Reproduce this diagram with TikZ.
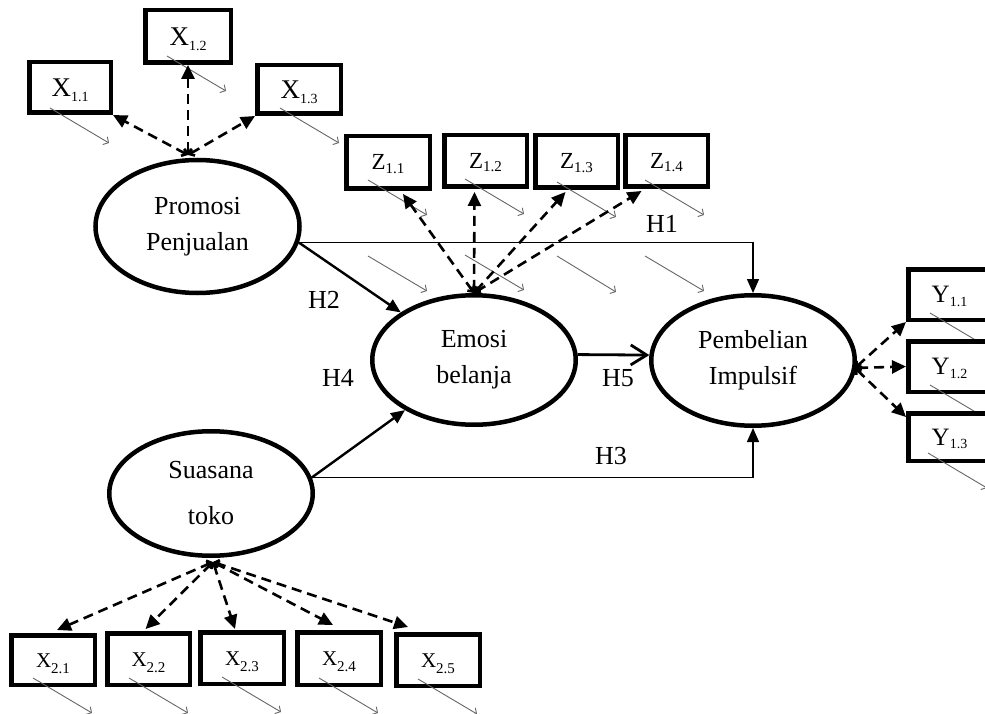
\documentclass[tikz,border=0pt]{standalone}
\usepackage{fontspec}
\setmainfont{Liberation Serif}
\usetikzlibrary{arrows.meta,calc,shapes.geometric}
\definecolor{errgray}{HTML}{666666}
\newcommand\sbx[3][4pt]{\raisebox{-#1}{\fontsize{#2}{#2}\selectfont #3}}
\begin{document}
\begin{tikzpicture}[x=1pt,y=-1pt,
 ind/.style={draw,line width=4.5pt,fill=white,inner sep=0pt,text depth=0pt},
 big/.style={font=\fontsize{27}{27}\selectfont,text height=18pt},
 mid/.style={font=\fontsize{23}{23}\selectfont,text height=15pt},
 ymid/.style={font=\fontsize{25}{25}\selectfont,text height=16.5pt},
 sml/.style={font=\fontsize{21}{21}\selectfont,text height=14pt},
 lat/.style={draw,ellipse,line width=4.5pt,inner sep=0pt,align=center,font=\fontsize{26}{36}\selectfont},
 hl/.style={font=\fontsize{26}{26}\selectfont,inner sep=0pt},
 err/.style={draw=errgray,line width=0.9pt,-{Straight Barb[length=4pt,width=9pt]}},
 load/.style={line width=2.6pt,dash pattern=on 10pt off 6pt,arrows={Straight Barb[length=4pt,width=8pt]-Triangle[length=14pt,width=13pt]}},
 reg/.style={line width=1.4pt,-{Triangle[length=14pt,width=12pt]}},
 regt/.style={line width=2.4pt,-{Triangle[length=14pt,width=12pt]}},
 hfive/.style={line width=2.8pt,-{Straight Barb[length=16pt,width=20pt]}}
]
\useasboundingbox (0,0) rectangle (985,714);

% latent variables
\node[lat,minimum width=204pt,minimum height=133pt] (promo) at (197.5,226.5) {Promosi\\Penjualan};
\node[lat,minimum width=203.5pt,minimum height=129.5pt] (emo) at (474,360) {Emosi\\belanja};
\node[lat,minimum width=203.5pt,minimum height=130.5pt] (pemb) at (753,360.5) {Pembelian\\Impulsif};
\node[lat,minimum width=203.5pt,minimum height=124.5pt] (suas) at (211,493.5) {Suasana\\[10pt]toko};

% indicators with error arrows
\node[ind,big,minimum width=81.5pt,minimum height=50.5pt] (x11) at (70,87.5) {X\sbx[5pt]{14}{1.1}};
\draw[err] ($(x11.south west)+(23,-7)$) -- ++(59,35);
\node[ind,big,minimum width=85.5pt,minimum height=52.5pt] (x12) at (188,36.5) {X\sbx[5pt]{14}{1.2}};
\draw[err] ($(x12.south west)+(24,-9)$) -- ++(59,35);
\node[ind,big,minimum width=83.5pt,minimum height=48.5pt] (x13) at (299,89.5) {X\sbx[5pt]{14}{1.3}};
\draw[err] ($(x13.south west)+(25,-8)$) -- ++(59,35);

\node[ind,mid,minimum width=83.5pt,minimum height=52.5pt] (z11) at (388,162.5) {Z\sbx[3.5pt]{15}{1.1}};
\draw[err] ($(z11.south west)+(24,-11)$) -- ++(59,35);
\node[ind,mid,minimum width=82.5pt,minimum height=51.5pt] (z12) at (485.5,161) {Z\sbx[3.5pt]{15}{1.2}};
\draw[err] ($(z12.south west)+(23,-10)$) -- ++(59,35);
\node[ind,mid,minimum width=82.5pt,minimum height=52.5pt] (z13) at (576.5,161.5) {Z\sbx[3.5pt]{15}{1.3}};
\draw[err] ($(z13.south west)+(24,-8)$) -- ++(59,35);
\node[ind,mid,minimum width=82.5pt,minimum height=51.5pt] (z14) at (666.5,161) {Z\sbx[3.5pt]{15}{1.4}};
\draw[err] ($(z14.south west)+(22,-9)$) -- ++(59,35);

\node[ind,ymid,minimum width=82.5pt,minimum height=50.5pt] (y11) at (949.5,294.5) {Y\sbx[3.5pt]{14}{1.1}};
\draw[err] ($(y11.south west)+(24,-9)$) -- ++(59,35);
\node[ind,ymid,minimum width=82.5pt,minimum height=50.5pt] (y12) at (949.5,366.5) {Y\sbx[3.5pt]{14}{1.2}};
\draw[err] ($(y12.south west)+(24,-9)$) -- ++(59,35);
\node[ind,ymid,minimum width=82.5pt,minimum height=47.5pt] (y13) at (949.5,437) {Y\sbx[3.5pt]{14}{1.3}};
\draw[err] ($(y13.south west)+(22,-10)$) -- ++(59,35);

\node[ind,sml,minimum width=83.5pt,minimum height=49.5pt] (x21) at (53,660) {X\sbx[6pt]{15}{2.1}};
\draw[err] ($(x21.south west)+(24,-9)$) -- ++(59,35);
\node[ind,sml,minimum width=82.5pt,minimum height=51.5pt] (x22) at (148.5,659) {X\sbx[6pt]{15}{2.2}};
\draw[err] ($(x22.south west)+(24,-9)$) -- ++(59,35);
\node[ind,sml,minimum width=83.5pt,minimum height=51.5pt] (x23) at (242,658) {X\sbx[6pt]{15}{2.3}};
\draw[err] ($(x23.south west)+(24,-9)$) -- ++(59,35);
\node[ind,sml,minimum width=83.5pt,minimum height=52.5pt] (x24) at (339,658.5) {X\sbx[6pt]{15}{2.4}};
\draw[err] ($(x24.south west)+(24,-9)$) -- ++(59,35);
\node[ind,sml,minimum width=83.5pt,minimum height=51.5pt] (x25) at (438,660) {X\sbx[6pt]{15}{2.5}};
\draw[err] ($(x25.south west)+(24,-9)$) -- ++(59,35);

% stray error arrows in the middle
\coordinate (m1) at (368,256);
\coordinate (m2) at (465,255);
\coordinate (m3) at (557,256);
\coordinate (m4) at (645,256);
\draw[err] (m1) -- ++(59,35);
\draw[err] (m2) -- ++(59,35);
\draw[err] (m3) -- ++(59,36);
\draw[err] (m4) -- ++(59,35);

% loading (dashed) arrows
\coordinate (pc) at (188,155);
\coordinate (sc) at (213,562);
\coordinate (pe) at (855,368);
\draw[load] (pc) -- (x11.south east);
\draw[load] (pc) -- (x12.south);
\draw[load] (pc) -- (x13.south west);
\draw[load] (emo.north) -- ($(z11.south)+(15,3)$);
\draw[load] (emo.north) -- ($(z12.south)+(-11,3)$);
\draw[load] (emo.north) -- ($(z13.south)+(-11,2)$);
\draw[load] (emo.north) -- ($(z14.south)+(-25,2)$);
\draw[load] (sc) -- ($(x21.north)+(4,-3)$);
\draw[load] (sc) -- ($(x22.north)+(-3,-2)$);
\draw[load] (sc) -- ($(x23.north)+(-7,-1)$);
\draw[load] (sc) -- ($(x24.north)+(-6,-5)$);
\draw[load] (sc) -- ($(x25.north)+(-30,-5)$);
\draw[load] (pe) -- (y11.south west);
\draw[load] (pe) -- (y12.west);
\draw[load] (pe) -- ($(y13.north west)+(0,6)$);

% structural paths
\draw[reg] (promo.-9) -| (pemb.north);
\draw[regt] (promo.-9) -- (emo.147);
\draw[regt] (suas.9) -- (emo.216);
\draw[reg] (suas.9) -| (pemb.south);
\draw[hfive] (emo.3) -- (pemb.177);

% labels
\node[hl] (h1) at (662,224) {H1};
\node[hl] (h2) at (324,300) {H2};
\node[hl] (h4) at (338,378) {H4};
\node[hl] (h5) at (618,378) {H5};
\node[hl] (h3) at (611,456) {H3};
\end{tikzpicture}
\end{document}
